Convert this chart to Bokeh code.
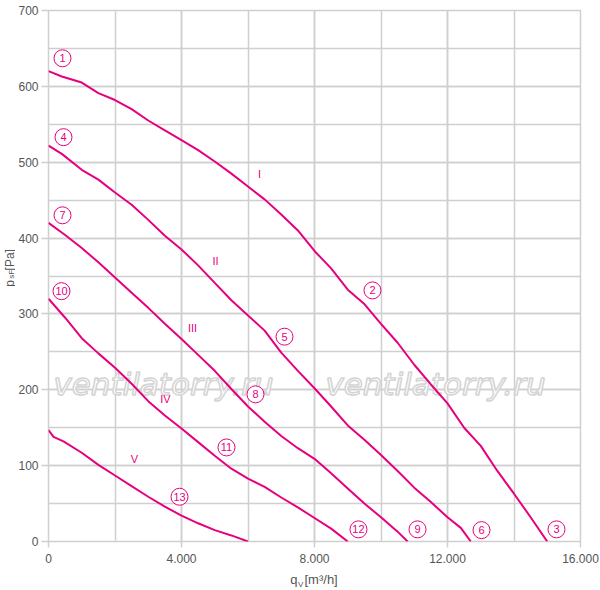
import math

from bokeh.core.properties import value
from bokeh.embed import file_html
from bokeh.layouts import column, row
from bokeh.models import FixedTicker, Range1d
from bokeh.plotting import figure
from bokeh.resources import INLINE

MAGENTA = "#e6007e"
GRID = "#cfcfcf"
FONT = "Liberation Sans"
TXT = "#555555"

# curves: q [m3/h] vs psF [Pa]
q_I = [0, 400, 1000, 1500, 2000, 2500, 3000, 3500, 4000, 4500, 5000, 5500, 6000, 6500, 7000,
       7500, 8000, 8500, 9000, 9500, 10000, 10500, 11000, 11500, 12000, 12500, 13000, 13500,
       14000, 14500, 15000]
p_I = [620, 613, 605, 591, 582, 570, 555, 542, 529, 516, 501, 485, 468, 451, 431,
       410, 383, 360, 332, 313, 287, 262, 233, 207, 182, 150, 126, 93,
       63, 32, 0]

q_II = [0, 400, 1000, 1500, 2000, 2500, 3000, 3500, 4000, 4500, 5000, 5500, 6000, 6500, 7000,
        7500, 8000, 8500, 9000, 9500, 10000, 10500, 11000, 11500, 12000, 12400, 12700]
p_II = [522, 511, 490, 477, 460, 444, 424, 403, 385, 364, 341, 318, 298, 278, 249,
        225, 202, 178, 153, 134, 114, 93, 71, 52, 32, 18, 0]

q_III = [0, 500, 1000, 1500, 2000, 2500, 3000, 3500, 4000, 4500, 5000, 5500, 6000, 6500, 7000,
         7500, 8000, 8500, 9000, 9500, 10000, 10500, 10800]
p_III = [420, 404, 387, 368, 348, 328, 308, 287, 267, 246, 225, 201, 178, 158, 139,
         123, 109, 90, 70, 50, 32, 13, 0]

q_IV = [0, 500, 1000, 1500, 2000, 2500, 3000, 3500, 4000, 4500, 5000, 5500, 6000, 6500, 7000,
        7500, 8000, 8500, 9000]
p_IV = [320, 295, 268, 248, 229, 208, 185, 166, 149, 131, 113, 96, 83, 72, 58,
        45, 31, 17, 0]

q_V = [0, 150, 450, 1000, 1500, 2000, 2500, 3000, 3500, 4000, 4500, 5000, 5500, 6000]
p_V = [147, 138, 132, 117, 101, 87, 73, 59, 46, 34, 24, 15, 8, 0]

# circled point numbers
num_text = ["1", "4", "7", "10", "2", "5", "8", "11", "13", "12", "9", "6", "3"]
num_q = [421, 451, 421, 391, 9744, 7098, 6226, 5353, 3940, 9323, 11098, 13023, 15278]
num_p = [637, 533, 430, 330, 331, 270, 194, 124, 59, 16, 16, 15, 16]

# speed step labels
roman_text = ["I", "II", "III", "IV", "V"]
roman_q = [6346, 5023, 4331, 3519, 2586]
roman_p = [484, 370, 281, 188, 109]

x_ticks = [0, 4000, 8000, 12000, 16000]
x_tick_labels = ["0", "4.000", "8.000", "12.000", "16.000"]
y_ticks = [0, 100, 200, 300, 400, 500, 600, 700]

wm_q = [3459, 11639]
wm_p = [208, 208]

p = figure(width=585, height=568, output_backend="svg", toolbar_location=None,
           x_range=Range1d(0, 16000), y_range=Range1d(0, 700),
           min_border_left=33, min_border_right=20, min_border_top=10, min_border_bottom=27)
p.background_fill_color = "white"
p.border_fill_color = "white"
p.outline_line_color = GRID
p.outline_line_width = 1.5

p.xaxis.ticker = FixedTicker(ticks=x_ticks, minor_ticks=list(range(0, 16001, 2000)))
p.yaxis.ticker = FixedTicker(ticks=y_ticks, minor_ticks=list(range(0, 701, 50)))
p.xaxis.major_label_overrides = dict(zip(x_ticks, x_tick_labels))

for ax in (p.xaxis, p.yaxis):
    ax.axis_line_color = None
    ax.minor_tick_line_color = None
    ax.major_tick_line_color = GRID
    ax.major_tick_line_width = 1.5
    ax.major_tick_in = 0
    ax.major_label_text_font = FONT
    ax.major_label_text_font_size = "12px"
    ax.major_label_text_color = TXT
p.xaxis.major_tick_out = 6
p.yaxis.major_tick_out = 7
p.xaxis.major_label_standoff = 6
p.yaxis.major_label_standoff = 3

for g in (p.xgrid, p.ygrid):
    g.grid_line_color = GRID
    g.grid_line_width = 1.5
    g.minor_grid_line_color = GRID
    g.minor_grid_line_width = 1.5

# watermark
p.text(x=wm_q, y=wm_p, text=["ventilatorry.ru"] * 2, text_font=value("DejaVu Sans"),
       text_font_size="31px", text_font_style="italic", text_color="white",
       text_outline_color="#d4d4d4", text_align="center", text_baseline="alphabetic")

for qs, ps in ((q_I, p_I), (q_II, p_II), (q_III, p_III), (q_IV, p_IV), (q_V, p_V)):
    p.line(qs, ps, line_color=MAGENTA, line_width=2)

p.scatter(num_q, num_p, marker="circle", size=17, fill_color="white",
          line_color=MAGENTA, line_width=1)
p.text(x=num_q, y=num_p, text=num_text, text_font=value(FONT), text_font_size="11px",
       text_color=MAGENTA, text_align="center", text_baseline="middle")
p.text(x=roman_q, y=roman_p, text=roman_text, text_font=value(FONT), text_font_size="11px",
       text_color=MAGENTA, text_align="center", text_baseline="middle")


def title_fig(w, h):
    f = figure(width=w, height=h, output_backend="svg", toolbar_location=None,
               x_range=Range1d(0, w), y_range=Range1d(0, h), min_border=0,
               x_axis_type=None, y_axis_type=None)
    f.outline_line_color = None
    f.background_fill_color = "white"
    f.border_fill_color = "white"
    return f


# y axis title: p_sF [Pa]
yt = title_fig(15, 568)
yt.text(x=[9], y=[272.5], text=["p"], angle=math.pi / 2, text_font=value(FONT),
        text_font_size="12px", text_color=TXT, text_align="left", text_baseline="middle")
yt.text(x=[11], y=[281], text=["sF"], angle=math.pi / 2, text_font=value(FONT),
        text_font_size="8px", text_color=TXT, text_align="left", text_baseline="middle")
yt.text(x=[9], y=[290], text=["[Pa]"], angle=math.pi / 2, text_font=value(FONT),
        text_font_size="12px", text_color=TXT, text_align="left", text_baseline="middle")

# x axis title: q_V [m3/h]
xt = title_fig(600, 22)
xt.text(x=[297], y=[11], text=["q"], text_font=value(FONT), text_font_size="13px",
        text_color=TXT, text_align="right", text_baseline="middle")
xt.text(x=[297.5], y=[6], text=["V"], text_font=value(FONT), text_font_size="8px",
        text_color=TXT, text_align="left", text_baseline="middle")
xt.text(x=[304], y=[11], text=["[m³/h]"], text_font=value(FONT), text_font_size="13px",
        text_color=TXT, text_align="left", text_baseline="middle")

layout = column(row(yt, p, spacing=0), xt, spacing=0)

open("out.html", "w").write(file_html(layout, INLINE))
